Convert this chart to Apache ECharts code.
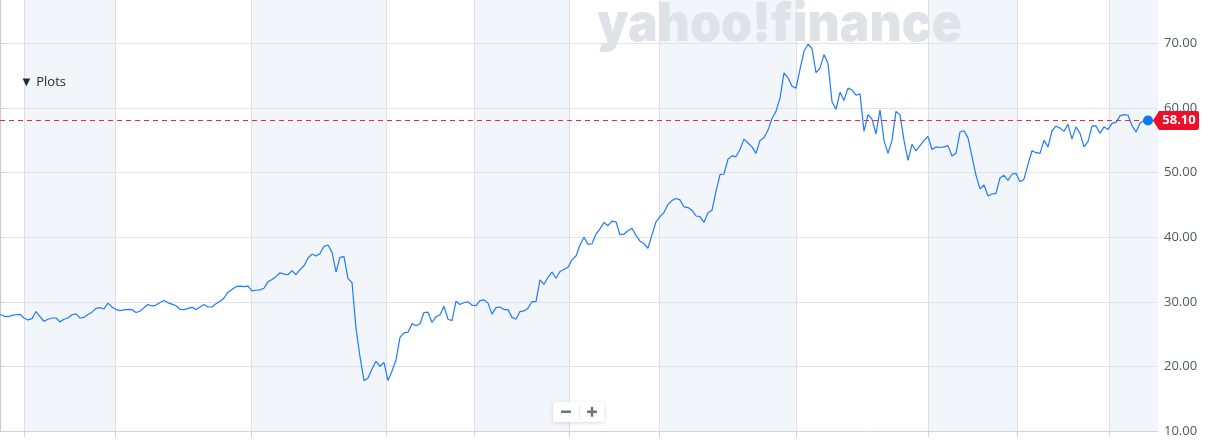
<!DOCTYPE html>
<html><head><meta charset="utf-8">
<script src="https://cdn.jsdelivr.net/npm/echarts@6/dist/echarts.min.js"></script>
<style>html,body{margin:0;padding:0;background:#fff}#c{width:1213px;height:442px}</style>
</head><body><div id="c"></div>
<script>
// Weekly closing prices
const prices = [
28.05,27.8,27.7,27.9,28.0,28.05,27.5,27.2,27.4,28.5,
27.7,27.0,27.3,27.5,27.5,26.9,27.3,27.5,28.0,28.15,
27.5,27.6,28.05,28.4,29.0,29.1,28.9,29.8,29.2,28.8,
28.65,28.75,28.85,28.8,28.35,28.55,29.1,29.6,29.35,29.5,
29.9,30.2,29.85,29.65,29.4,28.85,28.8,29.0,29.15,28.8,
29.2,29.6,29.2,29.2,29.7,30.1,30.6,31.5,31.9,32.35,
32.45,32.35,32.45,31.7,31.8,31.85,32.1,33.1,33.45,33.9,
34.5,34.3,34.2,34.85,34.2,
35.0,35.6,36.8,37.4,37.1,37.5,38.6,38.8,37.7,34.6,
36.9,37.0,33.6,33.0,25.9,21.5,17.8,18.2,19.6,20.8,
20.0,20.6,17.8,19.3,21.0,24.5,25.2,25.3,26.6,26.3,
26.6,28.35,28.4,26.8,27.7,28.0,29.3,27.3,27.1,30.1,
29.6,29.9,30.0,29.5,29.4,30.2,30.3,29.8,28.1,29.1,
29.2,28.8,28.8,27.6,27.3,28.5,28.6,29.0,30.05,30.05,
33.4,32.7,33.8,34.6,33.65,34.7,35.0,35.35,36.5,37.1,
38.8,40.0,38.9,39.0,
40.5,41.3,42.3,41.8,42.5,42.4,40.4,40.5,41.0,41.4,
40.3,39.4,39.0,38.3,40.4,42.4,43.2,43.85,45.1,45.7,
46.0,45.8,44.7,44.6,44.2,43.3,43.2,42.3,43.8,44.2,
47.1,49.7,49.8,52.1,52.6,52.5,53.6,55.2,54.6,54.0,
53.0,55.0,55.4,56.6,58.4,59.5,61.55,65.45,64.7,63.4,
63.1,66.0,68.8,69.9,69.2,65.5,66.2,68.3,66.9,61.0,
59.8,62.45,61.2,63.1,62.8,62.0,62.2,56.4,59.0,58.3,
56.0,59.75,
55.0,53.0,55.0,59.5,59.0,55.0,51.9,54.4,53.4,54.2,
55.0,55.6,53.6,54.0,53.9,54.0,54.2,52.6,53.0,56.3,
56.5,55.4,52.5,49.6,47.5,48.1,46.4,46.7,46.8,49.2,
49.6,48.8,49.8,49.9,48.6,49.0,51.3,53.4,53.1,53.0,
55.0,54.0,56.5,57.2,56.9,56.4,57.5,55.2,57.1,56.1,
54.0,54.8,57.2,57.25,56.1,57.1,56.7,57.65,57.8,58.8,
59.0,58.9,57.3,56.3,57.65,58.1,58.1
];
// period boundaries (in weeks from the first point) where the vertical grid lines sit
const periodBounds = [6, 28.75, 62.75, 96.5, 118.5, 142.25, 164.75, 199, 232, 254.25, 277.25];
const yMin = 10, yMax = 80, yStep = 10;
const lastPrice = 58.10;
const watermarkText = 'yahoo!finance';
const plotsText = '\u25BC Plots';
const xEnd = prices.length - 1 + 2.5;

const chart = echarts.init(document.getElementById('c'), null, {renderer: 'canvas'});

const data = prices.map((v, i) => [i, v]);
const bands = [];
for (let k = 0; k < periodBounds.length; k += 2) {
  bands.push([{xAxis: periodBounds[k]}, {xAxis: k + 1 < periodBounds.length ? periodBounds[k + 1] : xEnd}]);
}
const verticals = periodBounds.map(b => ({xAxis: b}));

const ctx = document.createElement('canvas').getContext('2d');
ctx.font = '900 53px Inter';
const wmScale = 365 / ctx.measureText(watermarkText).width;

const redLine = {color: '#f0283c', type: [5, 4], width: 1};

const option = {
  animation: false,
  textStyle: {fontFamily: '"Open Sans", sans-serif'},
  grid: {left: 0, right: 55, top: -21, bottom: 11, containLabel: false, outerBoundsMode: 'none'},
  xAxis: {
    type: 'value', min: 0, max: xEnd, z: 2,
    axisLine: {show: true, lineStyle: {color: '#d0d3d8'}},
    axisTick: {show: true, customValues: periodBounds, length: 6, lineStyle: {color: '#d0d3d8'}},
    axisLabel: {show: false},
    splitLine: {show: false}
  },
  yAxis: {
    type: 'value', position: 'right', min: yMin, max: yMax, interval: yStep, z: 2,
    axisLine: {show: true, lineStyle: {color: '#c9cdd2'}},
    axisTick: {show: true, length: 4, lineStyle: {color: '#c9cdd2'}},
    axisLabel: {formatter: v => v.toFixed(2), color: '#50575e', fontSize: 13, margin: 6},
    splitLine: {lineStyle: {color: '#e0e3e7'}}
  },
  graphic: [
    {type: 'text', x: 597, y: 25, scaleX: wmScale, z: 3, silent: true,
     style: {text: watermarkText, font: '900 53px Inter', fill: '#dfe2e7', verticalAlign: 'middle'}},
    {type: 'text', x: 20, y: 82, z: 10,
     style: {text: plotsText, font: '13px "Open Sans"', fill: '#232a31', verticalAlign: 'middle'}},
    {type: 'rect', z: 10, shape: {x: 553, y: 402, width: 51, height: 20, r: 2},
     style: {fill: '#fff', shadowBlur: 4, shadowColor: 'rgba(0,0,0,0.15)', shadowOffsetY: 1}},
    {type: 'rect', z: 11, shape: {x: 579, y: 405, width: 1, height: 14}, style: {fill: '#e8e9eb'}},
    {type: 'rect', z: 11, shape: {x: 561, y: 410.5, width: 10, height: 2.5}, style: {fill: '#6e757c'}},
    {type: 'rect', z: 11, shape: {x: 587, y: 410.5, width: 10, height: 2.5}, style: {fill: '#6e757c'}},
    {type: 'rect', z: 11, shape: {x: 590.75, y: 406.75, width: 2.5, height: 10}, style: {fill: '#6e757c'}}
  ],
  series: [
    {
      type: 'line', data: [], z: 1, silent: true,
      markArea: {silent: true, z: 1, itemStyle: {color: '#f2f5f9'}, data: bands},
      markLine: {silent: true, z: 2, symbol: 'none', label: {show: false},
        lineStyle: {color: '#dcdfe3', type: 'solid', width: 1}, data: verticals}
    },
    {
      type: 'line', data: data, z: 4, showSymbol: false, silent: true,
      lineStyle: {color: '#1f7bff', width: 1.2},
      markLine: {silent: true, z: 5, symbol: 'none', label: {show: false},
        lineStyle: redLine,
        data: [{yAxis: lastPrice, lineStyle: redLine}]},
      markPoint: {silent: true, z: 6,
        data: [
          {coord: [xEnd, lastPrice],
           symbol: 'path://M0,9 L6,0 L44,0 Q46,0 46,2 L46,16 Q46,18 44,18 L6,18 Z',
           symbolSize: [46, 19], symbolOffset: [18, 0],
           itemStyle: {color: '#eb0f29'},
           label: {show: true, formatter: lastPrice.toFixed(2), color: '#fff', fontWeight: 'bold', fontSize: 13, offset: [3, 0]}},
          {coord: [prices.length - 1, lastPrice], symbol: 'circle', symbolSize: 10,
           itemStyle: {color: '#0a7cf0'}, label: {show: false}}
        ]}
    }
  ]
};
chart.setOption(option);
</script>
</body></html>
